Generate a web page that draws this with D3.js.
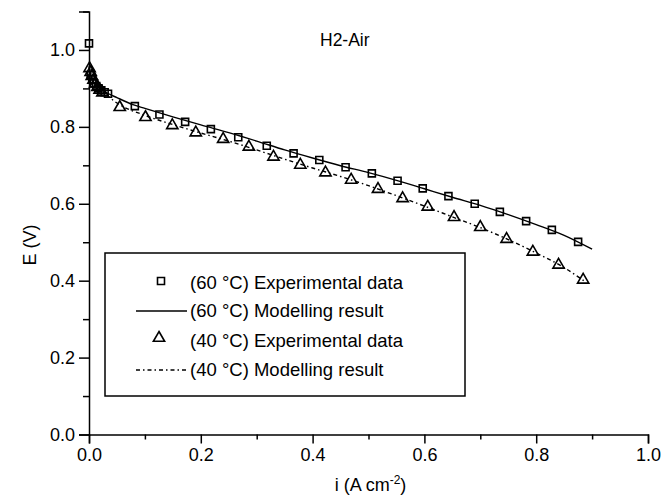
<!DOCTYPE html>
<html><head><meta charset="utf-8">
<script src="https://cdn.jsdelivr.net/npm/d3@7"></script>
<style>
html,body{margin:0;padding:0;background:#fff;}
text{font-family:"Liberation Sans",Arial,Helvetica,sans-serif;fill:#000;}
</style></head>
<body><svg id="c" width="663" height="496"></svg>
<script>
// ---- data ----
const xTicks = [0, 0.2, 0.4, 0.6, 0.8, 1.0];
const xMinorTicks = [0.1, 0.3, 0.5, 0.7, 0.9];
const yTicks = [0, 0.2, 0.4, 0.6, 0.8, 1.0];
const yMinorTicks = [0.1, 0.3, 0.5, 0.7, 0.9, 1.1];

const exp60_i = [0, 0.003, 0.006, 0.009, 0.013, 0.017, 0.022, 0.028, 0.034, 0.082, 0.126, 0.172, 0.218, 0.267, 0.318, 0.366, 0.412, 0.459, 0.506, 0.552, 0.597, 0.643, 0.690, 0.735, 0.782, 0.828, 0.875];
const exp60_E = [1.017, 0.935, 0.923, 0.913, 0.906, 0.900, 0.895, 0.890, 0.886, 0.854, 0.832, 0.813, 0.794, 0.773, 0.751, 0.731, 0.714, 0.695, 0.679, 0.660, 0.640, 0.620, 0.600, 0.579, 0.555, 0.532, 0.501];

const exp40_i = [0.001, 0.003, 0.005, 0.008, 0.011, 0.015, 0.019, 0.024, 0.055, 0.101, 0.149, 0.191, 0.240, 0.286, 0.330, 0.378, 0.423, 0.469, 0.517, 0.561, 0.606, 0.653, 0.700, 0.747, 0.794, 0.840, 0.884];
const exp40_E = [0.952, 0.942, 0.932, 0.922, 0.912, 0.903, 0.896, 0.889, 0.851, 0.825, 0.804, 0.785, 0.768, 0.748, 0.722, 0.701, 0.681, 0.662, 0.638, 0.614, 0.592, 0.565, 0.539, 0.508, 0.475, 0.441, 0.402];

const mod60_i = [0, 0.005, 0.01, 0.02, 0.03, 0.05, 0.08, 0.10, 0.15, 0.20, 0.25, 0.30, 0.35, 0.40, 0.45, 0.50, 0.55, 0.60, 0.65, 0.70, 0.75, 0.80, 0.85, 0.90];
const mod60_E = [0.955, 0.925, 0.913, 0.900, 0.890, 0.876, 0.857, 0.848, 0.826, 0.805, 0.785, 0.763, 0.740, 0.719, 0.699, 0.681, 0.661, 0.639, 0.617, 0.596, 0.572, 0.546, 0.518, 0.482];

const mod40_i = [0, 0.005, 0.01, 0.02, 0.03, 0.05, 0.10, 0.15, 0.20, 0.25, 0.30, 0.35, 0.40, 0.45, 0.50, 0.55, 0.60, 0.65, 0.70, 0.75, 0.80, 0.85, 0.885];
const mod40_E = [0.958, 0.930, 0.915, 0.898, 0.885, 0.862, 0.830, 0.806, 0.784, 0.763, 0.740, 0.716, 0.693, 0.671, 0.647, 0.621, 0.594, 0.566, 0.538, 0.507, 0.472, 0.434, 0.400];

const legendLabels = ["(60 \u00B0C) Experimental data", "(60 \u00B0C) Modelling result", "(40 \u00B0C) Experimental data", "(40 \u00B0C) Modelling result"];

// ---- drawing ----
const svg = d3.select("#c");
const x = d3.scaleLinear().domain([0, 1]).range([89, 648]);
const y = d3.scaleLinear().domain([0, 1.1]).range([434.5, 11.5]);
const FS = 18;

function styleAxis(g){
  g.select(".domain").attr("stroke","#000").attr("stroke-width",1.5);
  g.selectAll(".tick line").attr("stroke","#000").attr("stroke-width",1.5);
  g.selectAll(".tick text").style("font-size",FS+"px").style("font-family","'Liberation Sans',Arial,sans-serif").attr("fill","#000");
}

// x axis
const gx = svg.append("g").attr("transform",`translate(0,${y(0)})`)
  .call(d3.axisBottom(x).tickValues(xTicks).tickSize(9).tickPadding(5).tickFormat(d3.format(".1f")));
styleAxis(gx);
const gxm = svg.append("g").attr("transform",`translate(0,${y(0)})`)
  .call(d3.axisBottom(x).tickValues(xMinorTicks).tickSize(5).tickFormat(""));
styleAxis(gxm); gxm.select(".domain").remove();

// y axis
const gy = svg.append("g").attr("transform",`translate(${x(0)},0)`)
  .call(d3.axisLeft(y).tickValues(yTicks).tickSize(10).tickPadding(4).tickFormat(d3.format(".1f")));
styleAxis(gy);
const gym = svg.append("g").attr("transform",`translate(${x(0)},0)`)
  .call(d3.axisLeft(y).tickValues(yMinorTicks).tickSize(6).tickFormat(""));
styleAxis(gym); gym.select(".domain").remove();

// axis titles
svg.append("text").attr("transform",`translate(36,${(y(0)+y(1.1))/2 + 22}) rotate(-90)`)
  .attr("text-anchor","middle").style("font-size",FS+"px").text("E (V)");
const xt = svg.append("text").attr("x", x(0.5)+2).attr("y", 491).attr("text-anchor","middle").style("font-size",FS+"px");
xt.append("tspan").text("i (A cm");
xt.append("tspan").attr("dy",-7).style("font-size","12px").text("-2");
xt.append("tspan").attr("dy",7).text(")");

// title
svg.append("text").attr("x",320).attr("y",46).style("font-size","17.5px").text("H2-Air");

// model lines
const line = d3.line().x(d=>x(d[0])).y(d=>y(d[1])).curve(d3.curveMonotoneX);
const m60 = mod60_i.map((v,k)=>[v,mod60_E[k]]);
const m40 = mod40_i.map((v,k)=>[v,mod40_E[k]]);
svg.append("path").datum(m60).attr("d",line).attr("fill","none").attr("stroke","#000").attr("stroke-width",1.4);
svg.append("path").datum(m40).attr("d",line).attr("fill","none").attr("stroke","#000").attr("stroke-width",1.4)
  .attr("stroke-dasharray","4,3,1.5,3");

// markers
const sq = d3.symbol().type(d3.symbolSquare).size(49);
const tri = d3.symbol().type(d3.symbolTriangle).size(55);
svg.append("g").selectAll("path").data(exp60_i.map((v,k)=>[v,exp60_E[k]])).join("path")
  .attr("d",sq).attr("transform",d=>`translate(${x(d[0])},${y(d[1])})`)
  .attr("fill","none").attr("stroke","#000").attr("stroke-width",1.6);
svg.append("g").selectAll("path").data(exp40_i.map((v,k)=>[v,exp40_E[k]])).join("path")
  .attr("d",tri).attr("transform",d=>`translate(${x(d[0])},${y(d[1])})`)
  .attr("fill","none").attr("stroke","#000").attr("stroke-width",1.6);

// legend
const lg = svg.append("g");
lg.append("rect").attr("x",105).attr("y",253).attr("width",360).attr("height",143)
  .attr("fill","#fff").attr("stroke","#000").attr("stroke-width",1.5);
const rowsY = [283, 311, 341, 370];
legendLabels.forEach((t,k)=>{
  lg.append("text").attr("x",190).attr("y",rowsY[k]).attr("dy","0.35em").style("font-size","18.5px").text(t);
});
lg.append("path").attr("d",sq).attr("transform",`translate(161,${rowsY[0]-2})`).attr("fill","none").attr("stroke","#000").attr("stroke-width",1.6);
lg.append("line").attr("x1",136).attr("x2",187).attr("y1",rowsY[1]).attr("y2",rowsY[1]).attr("stroke","#000").attr("stroke-width",1.4);
lg.append("path").attr("d",tri).attr("transform",`translate(159,${rowsY[2]-3})`).attr("fill","none").attr("stroke","#000").attr("stroke-width",1.6);
lg.append("line").attr("x1",136).attr("x2",187).attr("y1",rowsY[3]).attr("y2",rowsY[3]).attr("stroke","#000").attr("stroke-width",1.4).attr("stroke-dasharray","4,3,1.5,3");
</script></body></html>
